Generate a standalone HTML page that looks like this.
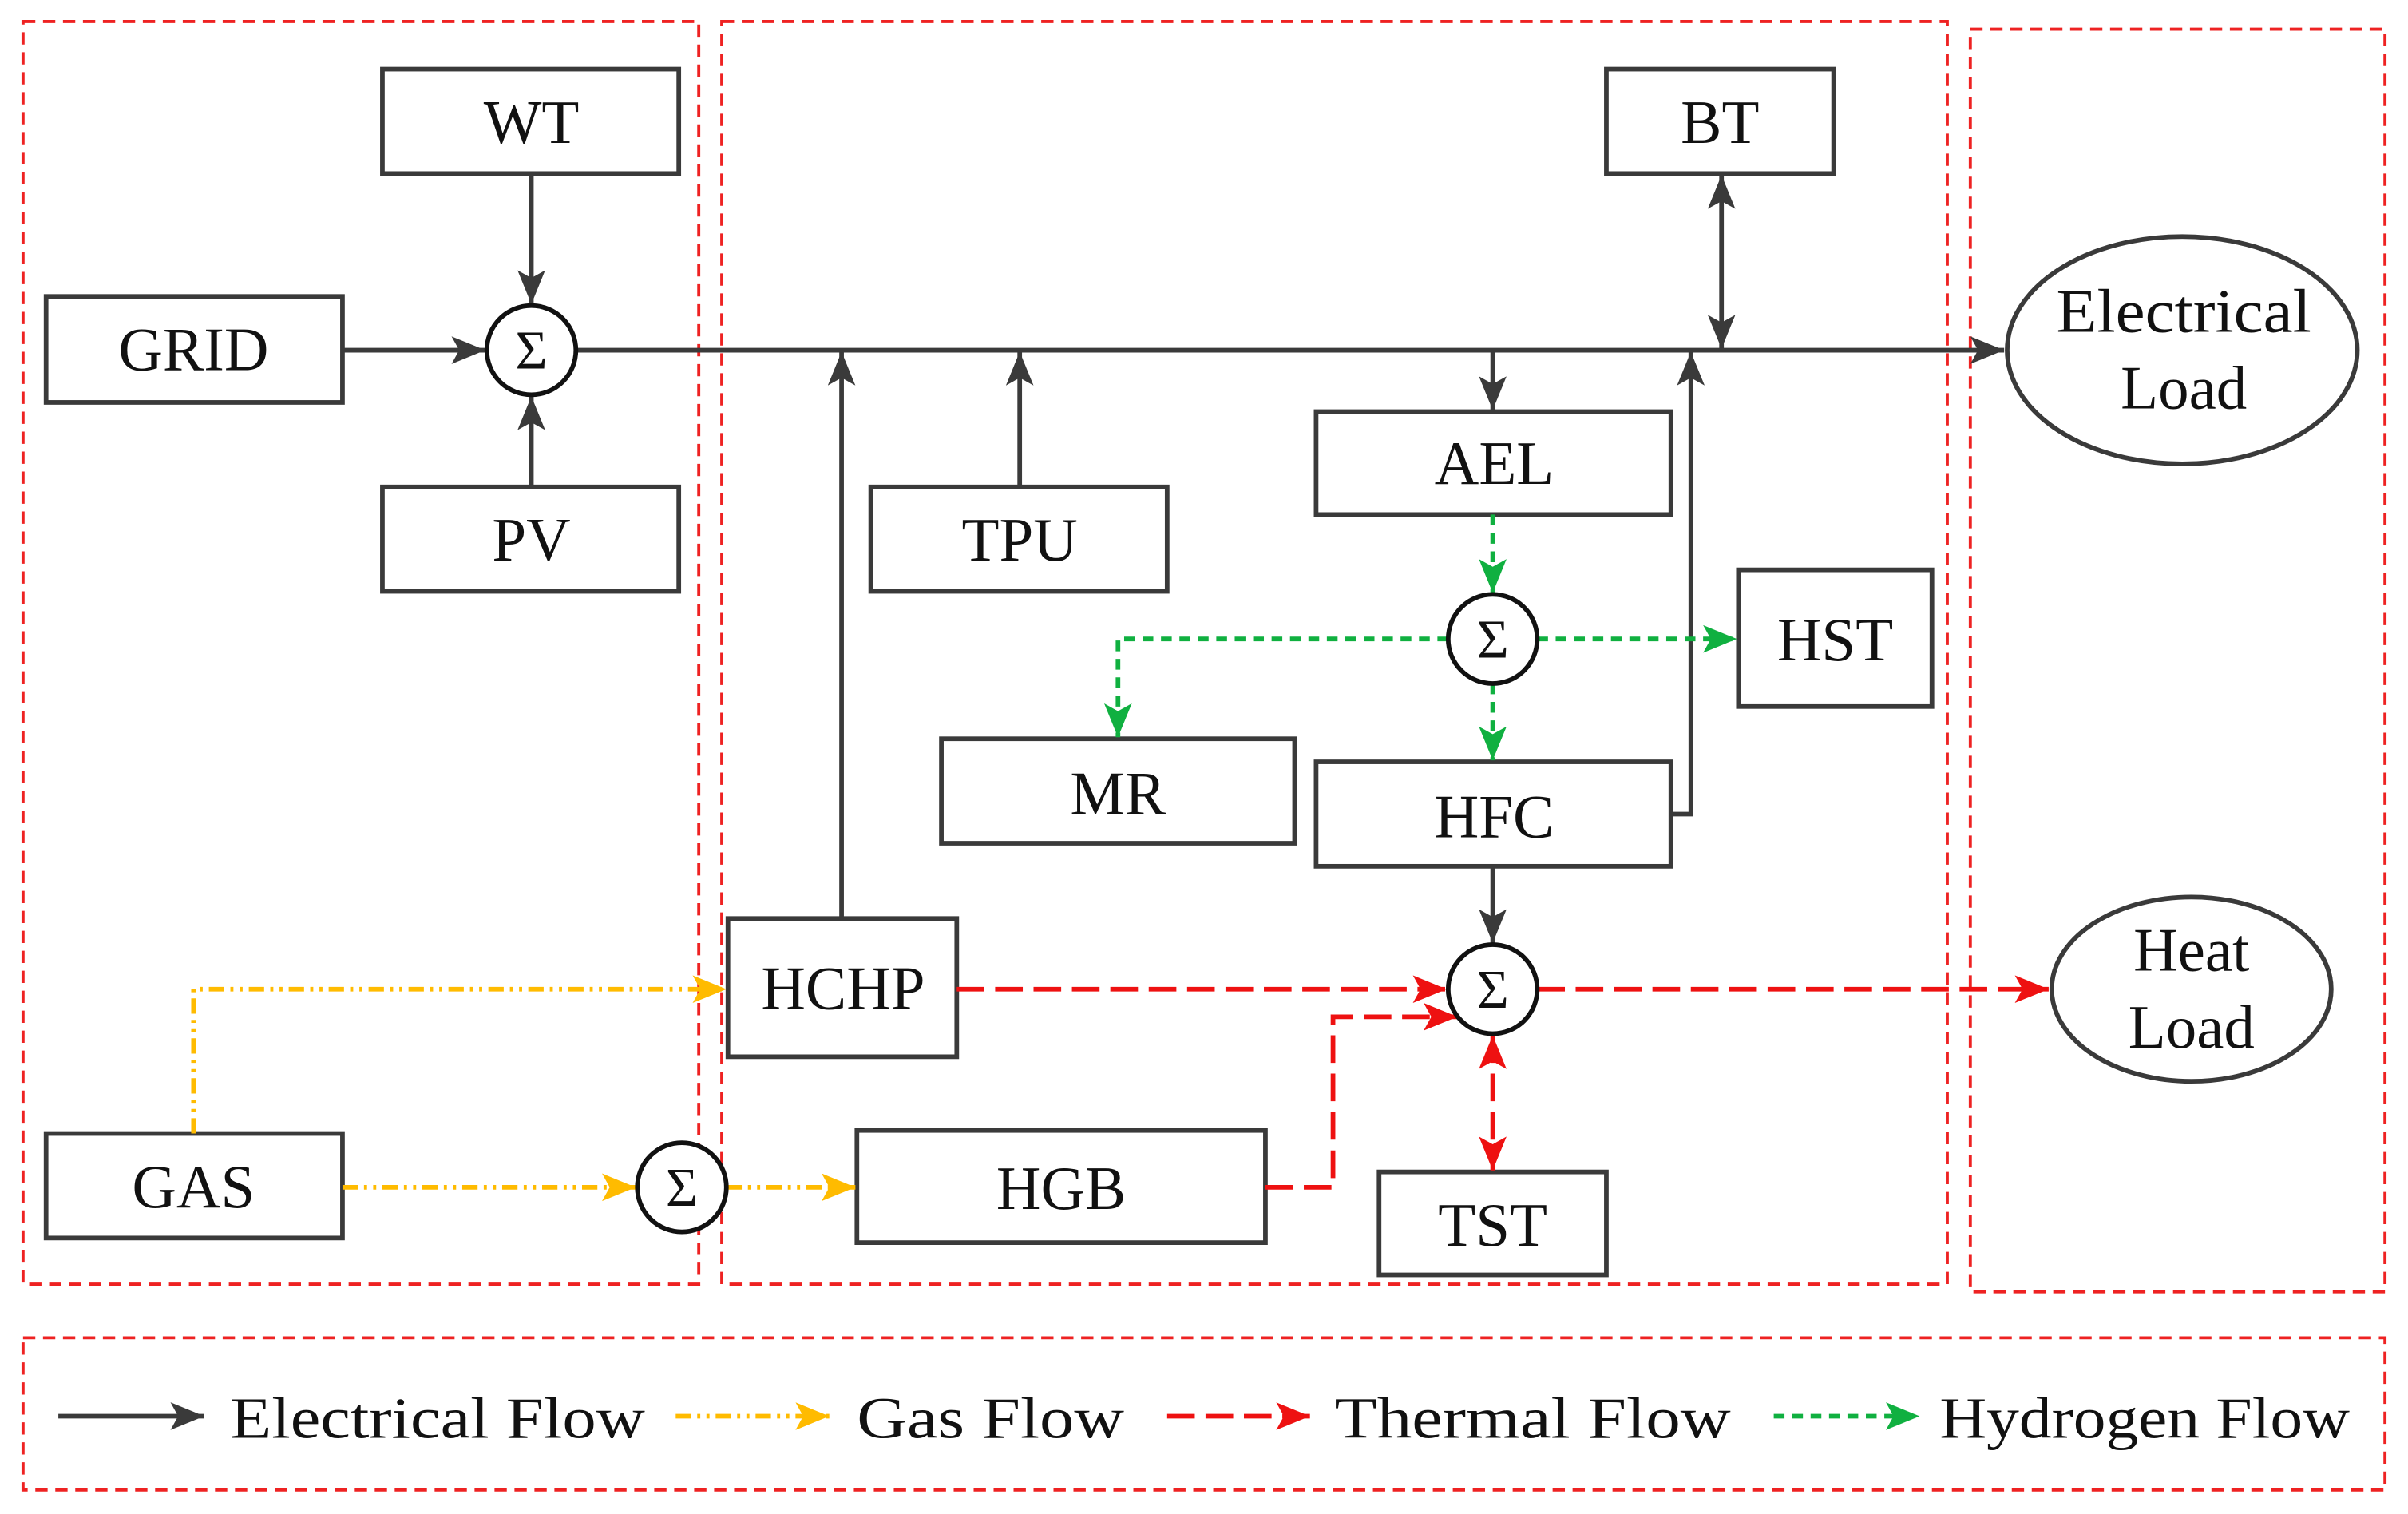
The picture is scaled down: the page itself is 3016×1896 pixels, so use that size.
<!DOCTYPE html>
<html><head><meta charset="utf-8"><style>html,body{margin:0;padding:0;background:#fff}svg{display:block}</style></head>
<body>
<svg width="3016" height="1896" viewBox="0 0 1568 985.7" preserveAspectRatio="none" xmlns="http://www.w3.org/2000/svg" font-family="'Liberation Serif', serif">
<defs>
<marker id="ak" markerUnits="userSpaceOnUse" markerWidth="24" markerHeight="20" refX="22" refY="9" orient="auto-start-reverse"><path d="M0,0 L22,9 L0,18 L5,9 Z" fill="#3a3a3a"/></marker>
<marker id="ar" markerUnits="userSpaceOnUse" markerWidth="24" markerHeight="20" refX="22" refY="9" orient="auto-start-reverse"><path d="M0,0 L22,9 L0,18 L5,9 Z" fill="#ee1111"/></marker>
<marker id="ay" markerUnits="userSpaceOnUse" markerWidth="24" markerHeight="20" refX="22" refY="9" orient="auto"><path d="M0,0 L22,9 L0,18 L5,9 Z" fill="#ffbb00"/></marker>
<marker id="ag" markerUnits="userSpaceOnUse" markerWidth="24" markerHeight="20" refX="22" refY="9" orient="auto"><path d="M0,0 L22,9 L0,18 L5,9 Z" fill="#10b040"/></marker>
</defs>
<g fill="none" stroke="#ee2222" stroke-width="2" stroke-dasharray="8,5">
<rect x="15" y="14" width="440" height="822"/>
<rect x="470" y="14" width="798" height="822"/>
<rect x="1283" y="19" width="270" height="822"/>
<rect x="15" y="871" width="1538" height="99"/>
</g>
<g fill="#fff" stroke="#3a3a3a" stroke-width="3">
<rect x="249" y="45" width="193" height="68"/>
<rect x="30" y="193" width="193" height="69"/>
<rect x="249" y="317" width="193" height="68"/>
<rect x="567" y="317" width="193" height="68"/>
<rect x="1046" y="45" width="148" height="68"/>
<rect x="857" y="268" width="231" height="67"/>
<rect x="1132" y="371" width="126" height="89"/>
<rect x="613" y="481" width="230" height="68"/>
<rect x="857" y="496" width="231" height="68"/>
<rect x="474" y="598" width="149" height="90"/>
<rect x="30" y="738" width="193" height="68"/>
<rect x="558" y="736" width="266" height="73"/>
<rect x="898" y="763" width="148" height="67"/>
<ellipse cx="1421" cy="228" rx="114" ry="74"/>
<ellipse cx="1427" cy="644" rx="91" ry="60"/>
</g>
<g fill="none" stroke="#3a3a3a" stroke-width="3">
<line x1="375" y1="228" x2="1305" y2="228" marker-end="url(#ak)"/>
<line x1="223" y1="228" x2="316" y2="228" marker-end="url(#ak)"/>
<line x1="346" y1="113" x2="346" y2="198" marker-end="url(#ak)"/>
<line x1="346" y1="317" x2="346" y2="258" marker-end="url(#ak)"/>
<line x1="548" y1="598" x2="548" y2="229" marker-end="url(#ak)"/>
<line x1="664" y1="317" x2="664" y2="229" marker-end="url(#ak)"/>
<line x1="972" y1="228" x2="972" y2="267" marker-end="url(#ak)"/>
<line x1="1121" y1="114" x2="1121" y2="227" marker-start="url(#ak)" marker-end="url(#ak)"/>
<polyline points="1088,530 1101,530 1101,229" marker-end="url(#ak)"/>
<line x1="972" y1="564" x2="972" y2="614" marker-end="url(#ak)"/>
</g>
<g fill="none" stroke="#10b040" stroke-width="3" stroke-dasharray="7,5">
<line x1="972" y1="335" x2="972" y2="386" marker-end="url(#ag)"/>
<line x1="1001" y1="416" x2="1131" y2="416" marker-end="url(#ag)"/>
<polyline points="943,416 728,416 728,480" marker-end="url(#ag)"/>
<line x1="972" y1="445" x2="972" y2="495" marker-end="url(#ag)"/>
</g>
<g fill="none" stroke="#ee1111" stroke-width="3" stroke-dasharray="18,7">
<line x1="623" y1="644" x2="942" y2="644" marker-end="url(#ar)"/>
<polyline points="824,773 868,773 868,662 949,662" marker-end="url(#ar)"/>
<line x1="1001" y1="644" x2="1334" y2="644" marker-end="url(#ar)"/>
<line x1="972" y1="674" x2="972" y2="762" marker-start="url(#ar)" marker-end="url(#ar)"/>
</g>
<g fill="none" stroke="#ffbb00" stroke-width="3" stroke-dasharray="10,4,2,4,2,4">
<polyline points="126,738 126,644 473,644" marker-end="url(#ay)"/>
<line x1="223" y1="773" x2="414" y2="773" marker-end="url(#ay)"/>
<line x1="473" y1="773" x2="557" y2="773" marker-end="url(#ay)"/>
</g>
<g fill="#fff" stroke="#111" stroke-width="3">
<circle cx="346" cy="228" r="29"/>
<circle cx="972" cy="416" r="29"/>
<circle cx="972" cy="644" r="29"/>
<circle cx="444" cy="773" r="29"/>
</g>
<g font-size="36" text-anchor="middle" fill="#111">
<text x="346" y="240">Σ</text><text x="972" y="428">Σ</text><text x="972" y="656">Σ</text><text x="444" y="785">Σ</text>
</g>
<g font-size="40" text-anchor="middle" fill="#111">
<text x="346" y="93">WT</text>
<text x="126" y="241">GRID</text>
<text x="346" y="365">PV</text>
<text x="664" y="365">TPU</text>
<text x="1120" y="93">BT</text>
<text x="973" y="315">AEL</text>
<text x="1195" y="430">HST</text>
<text x="728" y="530">MR</text>
<text x="973" y="545">HFC</text>
<text x="549" y="657">HCHP</text>
<text x="126" y="786">GAS</text>
<text x="691" y="787">HGB</text>
<text x="972" y="811">TST</text>
<text x="1422" y="216" textLength="166" lengthAdjust="spacingAndGlyphs">Electrical</text>
<text x="1422" y="266">Load</text>
<text x="1427" y="632">Heat</text>
<text x="1427" y="682">Load</text>
</g>
<line x1="38" y1="922" x2="133" y2="922" stroke="#3a3a3a" stroke-width="3" marker-end="url(#ak)"/>
<line x1="440" y1="922" x2="540" y2="922" stroke="#ffbb00" stroke-width="3" stroke-dasharray="10,4,2,4,2,4" marker-end="url(#ay)"/>
<line x1="760" y1="922" x2="853" y2="922" stroke="#ee1111" stroke-width="3" stroke-dasharray="18,7" marker-end="url(#ar)"/>
<line x1="1155" y1="922" x2="1250" y2="922" stroke="#10b040" stroke-width="3" stroke-dasharray="7,5" marker-end="url(#ag)"/>
<g font-size="38" fill="#111">
<text x="150" y="936" textLength="270" lengthAdjust="spacingAndGlyphs">Electrical Flow</text>
<text x="558" y="936" textLength="174" lengthAdjust="spacingAndGlyphs">Gas Flow</text>
<text x="869" y="936" textLength="258" lengthAdjust="spacingAndGlyphs">Thermal Flow</text>
<text x="1263" y="936" textLength="267" lengthAdjust="spacingAndGlyphs">Hydrogen Flow</text>
</g>
</svg>
</body></html>
